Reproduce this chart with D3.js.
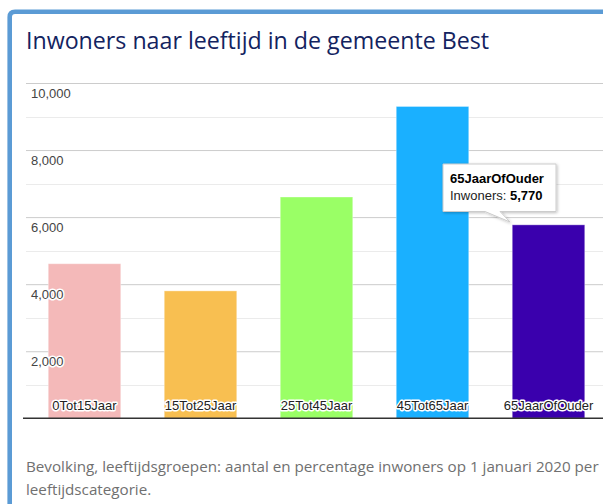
<!DOCTYPE html>
<html><head><meta charset="utf-8">
<script src="https://cdn.jsdelivr.net/npm/d3@7"></script>
<style>html,body{margin:0;padding:0;background:#fff;}svg{display:block;}</style>
</head><body>
<svg id="c" width="603" height="504"></svg>
<script>
const categories = ["0Tot15Jaar","15Tot25Jaar","25Tot45Jaar","45Tot65Jaar","65JaarOfOuder"];
const values = [4610, 3800, 6600, 9300, 5770];
const colors = ["#f4b9b9","#f8bf51","#9aff66","#1ab0ff","#3a00ad"];
const majorTicks = [2000,4000,6000,8000,10000];
const minorTicks = [1000,3000,5000,7000,9000];
const title = "Inwoners naar leeftijd in de gemeente Best";
const captionLines = ["Bevolking, leeftijdsgroepen: aantal en percentage inwoners op 1 januari 2020 per","leeftijdscategorie."];
const tooltipIndex = 4;
const seriesName = "Inwoners";

const svg = d3.select("#c");
svg.append("rect").attr("width",603).attr("height",504).attr("fill","#fff");

// frame
svg.append("path").attr("d","M9.7,506 V17 Q9.7,11.7 15,11.7 H610")
  .attr("fill","none").attr("stroke","#5b9bd5").attr("stroke-width",4.6);

svg.append("text").attr("x",26).attr("y",49)
  .attr("font-family","'Open Sans','Noto Sans',sans-serif").attr("font-size",23.2)
  .attr("fill","#13235f").text(title);

const y = d3.scaleLinear().domain([0,10000]).range([418.3,83]);
const x = d3.scaleBand().domain(categories).range([26.5,606.5]).paddingInner(0.375).paddingOuter(0.1875);
const fmt = d3.format(",");

// minor grid
svg.append("g").selectAll("line").data(minorTicks).join("line")
  .attr("x1",26).attr("x2",610).attr("y1",d=>Math.round(y(d))+0.5).attr("y2",d=>Math.round(y(d))+0.5)
  .attr("stroke","#ebebeb");
// major grid via axis
const gAxis = svg.append("g").attr("transform","translate(26,0)")
  .call(d3.axisRight(y).tickValues(majorTicks).tickSize(584).tickFormat(fmt));
gAxis.select(".domain").remove();
gAxis.selectAll(".tick line").attr("stroke","#cccccc");
gAxis.selectAll(".tick text").remove();

// bars
svg.append("g").selectAll("rect").data(values).join("rect")
  .attr("x",(d,i)=>x(categories[i])).attr("width",x.bandwidth())
  .attr("y",d=>y(d)).attr("height",d=>y(0)-y(d))
  .attr("fill",(d,i)=>colors[i]).attr("stroke","rgba(255,255,255,0.35)").attr("stroke-width",1);

// y tick labels (inside)
const tl = svg.append("g").attr("font-family","Arial,'Liberation Sans',sans-serif").attr("font-size",13);
majorTicks.forEach(t=>{
  [["#fff",3],["#444",0]].forEach(([c,w])=>{
    tl.append("text").attr("x",31).attr("y",y(t)+15).attr("fill",c)
      .attr("stroke",w?c:"none").attr("stroke-width",w).attr("stroke-linejoin","round").text(fmt(t));
  });
});

// baseline
svg.append("line").attr("x1",23).attr("x2",610).attr("y1",y(0)).attr("y2",y(0))
  .attr("stroke","#333").attr("stroke-width",1.5);

// category labels inside bars
const cl = svg.append("g").attr("font-family","Arial,'Liberation Sans',sans-serif").attr("font-size",13).attr("text-anchor","middle");
categories.forEach(c=>{
  [["#fff",3],["#222",0]].forEach(([col,w])=>{
    cl.append("text").attr("x",x(c)+x.bandwidth()/2).attr("y",409.5).attr("fill",col)
      .attr("stroke",w?col:"none").attr("stroke-width",w).attr("stroke-linejoin","round").text(c);
  });
});

// tooltip
const defs = svg.append("defs");
const f = defs.append("filter").attr("id","sh").attr("x","-20%").attr("y","-20%").attr("width","140%").attr("height","150%");
f.append("feDropShadow").attr("dx",1).attr("dy",1).attr("stdDeviation",1.5).attr("flood-color","#000").attr("flood-opacity",0.25);
const tg = svg.append("g");
tg.append("path").attr("d",`M443,164 H556 V211.5 H500 L510,222 L485,211.5 H443 Z`)
  .attr("fill","#fff").attr("stroke","#cccccc").attr("stroke-width",1).attr("filter","url(#sh)");
const tt = tg.append("g").attr("font-family","Arial,'Liberation Sans',sans-serif").attr("font-size",13).attr("fill","#000");
tt.append("text").attr("x",450).attr("y",182.5).attr("font-weight","bold").text(categories[tooltipIndex]);
const t2 = tt.append("text").attr("x",450).attr("y",200);
t2.append("tspan").attr("fill","#222").text(seriesName+": ");
t2.append("tspan").attr("font-weight","bold").text(fmt(values[tooltipIndex]));

// caption
const cap = svg.append("g").attr("font-family","'Open Sans','Noto Sans',sans-serif").attr("font-size",15.2).attr("fill","#707070");
captionLines.forEach((l,i)=>cap.append("text").attr("x",26).attr("y",472+i*23).text(l));
</script>
</body></html>
